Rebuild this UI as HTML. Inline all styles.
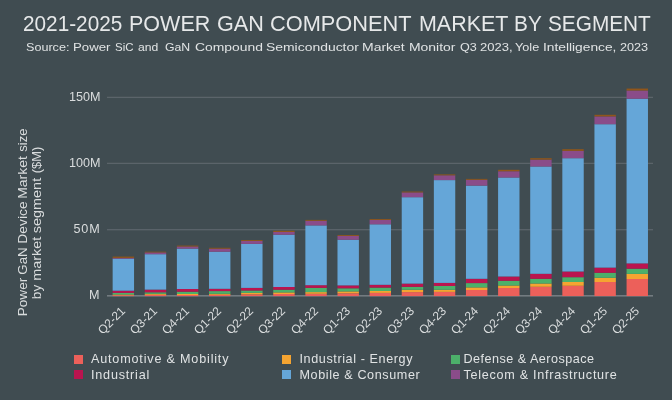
<!DOCTYPE html>
<html><head><meta charset="utf-8"><style>
html,body{margin:0;padding:0;}
#wrap{position:absolute;left:0;top:0;width:672px;height:400px;filter:blur(0.45px);}
body{width:672px;height:400px;background:#404c51;position:relative;overflow:hidden;font-family:"Liberation Sans",sans-serif;color:#eef0f0;}
.t{position:absolute;white-space:nowrap;line-height:1;}
#title{position:absolute;left:0;top:13.3px;font-size:21.8px;line-height:1;color:#e6e8e9;}
.tw{position:absolute;top:0;white-space:nowrap;transform-origin:0 0;}
#sub{position:absolute;left:0;top:42.2px;font-size:11.5px;line-height:1;color:#e0e3e4;}
.yl{position:absolute;width:40px;text-align:right;font-size:12.6px;line-height:1;color:#d9dcdd;letter-spacing:0.45px}
.xl{position:absolute;width:60px;text-align:right;font-size:12px;line-height:1;color:#d9dcdd;transform-origin:100% 50%;transform:rotate(-45deg);white-space:nowrap;letter-spacing:-0.15px}
.yt{position:absolute;left:0;top:0;white-space:nowrap;font-size:12.6px;line-height:1;color:#d9dcdd;transform-origin:0 0;}
.lg{position:absolute;font-size:12.6px;line-height:1;color:#e0e3e4;white-space:nowrap;letter-spacing:0.6px}
.sq{position:absolute;width:9px;height:9.3px;}
svg{position:absolute;left:0;top:0;}
</style></head><body>
<div id="wrap">
<div id="title"><span class="tw" style="left:23.26px;transform:scaleX(0.9526)">2021-2025</span><span class="tw" style="left:129.44px;transform:scaleX(0.9868)">POWER</span><span class="tw" style="left:217.22px;transform:scaleX(0.9913)">GAN</span><span class="tw" style="left:270.49px;transform:scaleX(0.9987)">COMPONENT</span><span class="tw" style="left:418.54px;transform:scaleX(0.9836)">MARKET</span><span class="tw" style="left:514.49px;transform:scaleX(0.9547)">BY</span><span class="tw" style="left:548.34px;transform:scaleX(0.9539)">SEGMENT</span></div>
<div id="sub"><span class="tw" style="left:26.32px;transform:scaleX(1.0958)">Source:</span><span class="tw" style="left:73.42px;transform:scaleX(1.1478)">Power</span><span class="tw" style="left:115.47px;transform:scaleX(0.9966)">SiC</span><span class="tw" style="left:138.39px;transform:scaleX(1.0577)">and</span><span class="tw" style="left:165.19px;transform:scaleX(1.0661)">GaN</span><span class="tw" style="left:194.69px;transform:scaleX(1.2069)">Compound</span><span class="tw" style="left:266.01px;transform:scaleX(1.2102)">Semiconductor</span><span class="tw" style="left:361.95px;transform:scaleX(1.2163)">Market</span><span class="tw" style="left:408.76px;transform:scaleX(1.2123)">Monitor</span><span class="tw" style="left:459.61px;transform:scaleX(1.0948)">Q3</span><span class="tw" style="left:479.75px;transform:scaleX(1.1297)">2023,</span><span class="tw" style="left:514.72px;transform:scaleX(1.1011)">Yole</span><span class="tw" style="left:543.13px;transform:scaleX(1.1960)">Intelligence,</span><span class="tw" style="left:619.67px;transform:scaleX(1.0982)">2023</span></div>
<svg width="672" height="400" viewBox="0 0 672 400">
<rect x="107" y="96.75" width="546" height="1.3" fill="#5b646a"/><rect x="107" y="162.75" width="546" height="1.3" fill="#5b646a"/><rect x="107" y="229.05" width="546" height="1.3" fill="#5b646a"/><rect x="107" y="295.0" width="546" height="1.6" fill="#737b80"/><rect x="112.65" y="295.20" width="21.4" height="0.90" fill="#ec605a"/><rect x="112.65" y="294.50" width="21.4" height="0.70" fill="#f5a431"/><rect x="112.65" y="292.90" width="21.4" height="1.60" fill="#4cb06a"/><rect x="112.65" y="290.70" width="21.4" height="2.20" fill="#ba144f"/><rect x="112.65" y="258.70" width="21.4" height="32.00" fill="#65a6d8"/><rect x="112.65" y="257.90" width="21.4" height="0.80" fill="#8a4c89"/><rect x="112.65" y="256.60" width="21.4" height="1.30" fill="#91561a"/><rect x="144.77" y="294.80" width="21.4" height="1.30" fill="#ec605a"/><rect x="144.77" y="293.80" width="21.4" height="1.00" fill="#f5a431"/><rect x="144.77" y="292.30" width="21.4" height="1.50" fill="#4cb06a"/><rect x="144.77" y="289.60" width="21.4" height="2.70" fill="#ba144f"/><rect x="144.77" y="254.20" width="21.4" height="35.40" fill="#65a6d8"/><rect x="144.77" y="252.40" width="21.4" height="1.80" fill="#8a4c89"/><rect x="144.77" y="251.70" width="21.4" height="0.70" fill="#91561a"/><rect x="176.89" y="295.00" width="21.4" height="1.10" fill="#ec605a"/><rect x="176.89" y="294.00" width="21.4" height="1.00" fill="#f5a431"/><rect x="176.89" y="291.70" width="21.4" height="2.30" fill="#4cb06a"/><rect x="176.89" y="289.00" width="21.4" height="2.70" fill="#ba144f"/><rect x="176.89" y="248.60" width="21.4" height="40.40" fill="#65a6d8"/><rect x="176.89" y="246.50" width="21.4" height="2.10" fill="#8a4c89"/><rect x="176.89" y="245.60" width="21.4" height="0.90" fill="#91561a"/><rect x="209.01" y="294.80" width="21.4" height="1.30" fill="#ec605a"/><rect x="209.01" y="293.80" width="21.4" height="1.00" fill="#f5a431"/><rect x="209.01" y="291.10" width="21.4" height="2.70" fill="#4cb06a"/><rect x="209.01" y="288.80" width="21.4" height="2.30" fill="#ba144f"/><rect x="209.01" y="251.70" width="21.4" height="37.10" fill="#65a6d8"/><rect x="209.01" y="248.70" width="21.4" height="3.00" fill="#8a4c89"/><rect x="209.01" y="247.80" width="21.4" height="0.90" fill="#91561a"/><rect x="241.13" y="294.30" width="21.4" height="1.80" fill="#ec605a"/><rect x="241.13" y="292.90" width="21.4" height="1.40" fill="#f5a431"/><rect x="241.13" y="290.50" width="21.4" height="2.40" fill="#4cb06a"/><rect x="241.13" y="287.90" width="21.4" height="2.60" fill="#ba144f"/><rect x="241.13" y="243.90" width="21.4" height="44.00" fill="#65a6d8"/><rect x="241.13" y="241.00" width="21.4" height="2.90" fill="#8a4c89"/><rect x="241.13" y="240.10" width="21.4" height="0.90" fill="#91561a"/><rect x="273.25" y="294.00" width="21.4" height="2.10" fill="#ec605a"/><rect x="273.25" y="292.40" width="21.4" height="1.60" fill="#f5a431"/><rect x="273.25" y="289.70" width="21.4" height="2.70" fill="#4cb06a"/><rect x="273.25" y="287.00" width="21.4" height="2.70" fill="#ba144f"/><rect x="273.25" y="234.70" width="21.4" height="52.30" fill="#65a6d8"/><rect x="273.25" y="232.00" width="21.4" height="2.70" fill="#8a4c89"/><rect x="273.25" y="230.80" width="21.4" height="1.20" fill="#91561a"/><rect x="305.37" y="293.80" width="21.4" height="2.30" fill="#ec605a"/><rect x="305.37" y="292.10" width="21.4" height="1.70" fill="#f5a431"/><rect x="305.37" y="287.90" width="21.4" height="4.20" fill="#4cb06a"/><rect x="305.37" y="285.20" width="21.4" height="2.70" fill="#ba144f"/><rect x="305.37" y="225.40" width="21.4" height="59.80" fill="#65a6d8"/><rect x="305.37" y="220.80" width="21.4" height="4.60" fill="#8a4c89"/><rect x="305.37" y="219.90" width="21.4" height="0.90" fill="#91561a"/><rect x="337.49" y="293.30" width="21.4" height="2.80" fill="#ec605a"/><rect x="337.49" y="291.40" width="21.4" height="1.90" fill="#f5a431"/><rect x="337.49" y="288.30" width="21.4" height="3.10" fill="#4cb06a"/><rect x="337.49" y="285.40" width="21.4" height="2.90" fill="#ba144f"/><rect x="337.49" y="239.70" width="21.4" height="45.70" fill="#65a6d8"/><rect x="337.49" y="236.00" width="21.4" height="3.70" fill="#8a4c89"/><rect x="337.49" y="235.10" width="21.4" height="0.90" fill="#91561a"/><rect x="369.61" y="292.90" width="21.4" height="3.20" fill="#ec605a"/><rect x="369.61" y="291.00" width="21.4" height="1.90" fill="#f5a431"/><rect x="369.61" y="287.60" width="21.4" height="3.40" fill="#4cb06a"/><rect x="369.61" y="284.80" width="21.4" height="2.80" fill="#ba144f"/><rect x="369.61" y="224.30" width="21.4" height="60.50" fill="#65a6d8"/><rect x="369.61" y="219.90" width="21.4" height="4.40" fill="#8a4c89"/><rect x="369.61" y="219.00" width="21.4" height="0.90" fill="#91561a"/><rect x="401.73" y="292.10" width="21.4" height="4.00" fill="#ec605a"/><rect x="401.73" y="289.80" width="21.4" height="2.30" fill="#f5a431"/><rect x="401.73" y="286.90" width="21.4" height="2.90" fill="#4cb06a"/><rect x="401.73" y="283.60" width="21.4" height="3.30" fill="#ba144f"/><rect x="401.73" y="197.20" width="21.4" height="86.40" fill="#65a6d8"/><rect x="401.73" y="192.40" width="21.4" height="4.80" fill="#8a4c89"/><rect x="401.73" y="191.55" width="21.4" height="0.85" fill="#91561a"/><rect x="433.85" y="291.90" width="21.4" height="4.20" fill="#ec605a"/><rect x="433.85" y="289.80" width="21.4" height="2.10" fill="#f5a431"/><rect x="433.85" y="286.00" width="21.4" height="3.80" fill="#4cb06a"/><rect x="433.85" y="282.90" width="21.4" height="3.10" fill="#ba144f"/><rect x="433.85" y="180.10" width="21.4" height="102.80" fill="#65a6d8"/><rect x="433.85" y="175.30" width="21.4" height="4.80" fill="#8a4c89"/><rect x="433.85" y="174.40" width="21.4" height="0.90" fill="#91561a"/><rect x="465.97" y="290.00" width="21.4" height="6.10" fill="#ec605a"/><rect x="465.97" y="287.40" width="21.4" height="2.60" fill="#f5a431"/><rect x="465.97" y="283.10" width="21.4" height="4.30" fill="#4cb06a"/><rect x="465.97" y="278.80" width="21.4" height="4.30" fill="#ba144f"/><rect x="465.97" y="185.60" width="21.4" height="93.20" fill="#65a6d8"/><rect x="465.97" y="179.80" width="21.4" height="5.80" fill="#8a4c89"/><rect x="465.97" y="178.90" width="21.4" height="0.90" fill="#91561a"/><rect x="498.09" y="288.00" width="21.4" height="8.10" fill="#ec605a"/><rect x="498.09" y="285.50" width="21.4" height="2.50" fill="#f5a431"/><rect x="498.09" y="280.80" width="21.4" height="4.70" fill="#4cb06a"/><rect x="498.09" y="276.50" width="21.4" height="4.30" fill="#ba144f"/><rect x="498.09" y="177.50" width="21.4" height="99.00" fill="#65a6d8"/><rect x="498.09" y="171.25" width="21.4" height="6.25" fill="#8a4c89"/><rect x="498.09" y="169.80" width="21.4" height="1.45" fill="#91561a"/><rect x="530.21" y="286.80" width="21.4" height="9.30" fill="#ec605a"/><rect x="530.21" y="283.50" width="21.4" height="3.30" fill="#f5a431"/><rect x="530.21" y="278.80" width="21.4" height="4.70" fill="#4cb06a"/><rect x="530.21" y="273.80" width="21.4" height="5.00" fill="#ba144f"/><rect x="530.21" y="166.50" width="21.4" height="107.30" fill="#65a6d8"/><rect x="530.21" y="159.60" width="21.4" height="6.90" fill="#8a4c89"/><rect x="530.21" y="158.20" width="21.4" height="1.40" fill="#91561a"/><rect x="562.33" y="285.80" width="21.4" height="10.30" fill="#ec605a"/><rect x="562.33" y="282.00" width="21.4" height="3.80" fill="#f5a431"/><rect x="562.33" y="277.20" width="21.4" height="4.80" fill="#4cb06a"/><rect x="562.33" y="271.50" width="21.4" height="5.70" fill="#ba144f"/><rect x="562.33" y="158.20" width="21.4" height="113.30" fill="#65a6d8"/><rect x="562.33" y="150.90" width="21.4" height="7.30" fill="#8a4c89"/><rect x="562.33" y="149.20" width="21.4" height="1.70" fill="#91561a"/><rect x="594.45" y="282.00" width="21.4" height="14.10" fill="#ec605a"/><rect x="594.45" y="277.80" width="21.4" height="4.20" fill="#f5a431"/><rect x="594.45" y="272.80" width="21.4" height="5.00" fill="#4cb06a"/><rect x="594.45" y="267.60" width="21.4" height="5.20" fill="#ba144f"/><rect x="594.45" y="124.20" width="21.4" height="143.40" fill="#65a6d8"/><rect x="594.45" y="116.40" width="21.4" height="7.80" fill="#8a4c89"/><rect x="594.45" y="114.80" width="21.4" height="1.60" fill="#91561a"/><rect x="626.57" y="279.00" width="21.4" height="17.10" fill="#ec605a"/><rect x="626.57" y="273.90" width="21.4" height="5.10" fill="#f5a431"/><rect x="626.57" y="268.70" width="21.4" height="5.20" fill="#4cb06a"/><rect x="626.57" y="263.40" width="21.4" height="5.30" fill="#ba144f"/><rect x="626.57" y="98.70" width="21.4" height="164.70" fill="#65a6d8"/><rect x="626.57" y="90.50" width="21.4" height="8.20" fill="#8a4c89"/><rect x="626.57" y="88.55" width="21.4" height="1.95" fill="#91561a"/>
</svg>
<div class="yl" style="left:60.45px;top:90.6px;letter-spacing:0px">150M</div>
<div class="yl" style="left:60.45px;top:156.8px;letter-spacing:0px">100M</div>
<div class="yl" style="left:60.45px;top:223px;letter-spacing:0.8px">50M</div>
<div class="yl" style="left:60px;top:289.2px">M</div>
<div class="xl" style="left:62.85px;top:303.00px">Q2-21</div><div class="xl" style="left:94.97px;top:303.00px">Q3-21</div><div class="xl" style="left:127.09px;top:303.00px">Q4-21</div><div class="xl" style="left:159.21px;top:303.00px">Q1-22</div><div class="xl" style="left:191.33px;top:303.00px">Q2-22</div><div class="xl" style="left:223.45px;top:303.00px">Q3-22</div><div class="xl" style="left:255.57px;top:303.00px">Q4-22</div><div class="xl" style="left:287.69px;top:303.00px">Q1-23</div><div class="xl" style="left:319.81px;top:303.00px">Q2-23</div><div class="xl" style="left:351.93px;top:303.00px">Q3-23</div><div class="xl" style="left:384.05px;top:303.00px">Q4-23</div><div class="xl" style="left:416.17px;top:303.00px">Q1-24</div><div class="xl" style="left:448.29px;top:303.00px">Q2-24</div><div class="xl" style="left:480.41px;top:303.00px">Q3-24</div><div class="xl" style="left:512.53px;top:303.00px">Q4-24</div><div class="xl" style="left:544.65px;top:303.00px">Q1-25</div><div class="xl" style="left:576.77px;top:303.00px">Q2-25</div>
<div class="yt" style="transform:translate(17.0px,316.32px) rotate(-90deg) scaleX(1.0824)">Power</div>
<div class="yt" style="transform:translate(17.0px,274.66px) rotate(-90deg) scaleX(1.0513)">GaN</div>
<div class="yt" style="transform:translate(17.0px,243.63px) rotate(-90deg) scaleX(1.0967)">Device</div>
<div class="yt" style="transform:translate(17.0px,198.85px) rotate(-90deg) scaleX(1.1101)">Market</div>
<div class="yt" style="transform:translate(17.0px,151.71px) rotate(-90deg) scaleX(1.0328)">size</div>
<div class="yt" style="transform:translate(31.2px,299.24px) rotate(-90deg) scaleX(1.0874)">by</div>
<div class="yt" style="transform:translate(31.2px,280.85px) rotate(-90deg) scaleX(1.1440)">market</div>
<div class="yt" style="transform:translate(31.2px,233.25px) rotate(-90deg) scaleX(1.1474)">segment</div>
<div class="yt" style="transform:translate(31.2px,173.20px) rotate(-90deg) scaleX(1.0193)">($M)</div>
<div class="sq" style="left:74px;top:354.5px;background:#ec605a"></div>
<div class="lg" style="left:91px;top:353.2px;letter-spacing:0.82px">Automotive &amp; Mobility</div>
<div class="sq" style="left:74px;top:369.6px;background:#ba144f"></div>
<div class="lg" style="left:91px;top:369px;letter-spacing:0.8px">Industrial</div>
<div class="sq" style="left:282px;top:354.5px;background:#f5a431"></div>
<div class="lg" style="left:299.5px;top:353.2px">Industrial - Energy</div>
<div class="sq" style="left:282px;top:369.6px;background:#65a6d8"></div>
<div class="lg" style="left:299.5px;top:369px">Mobile &amp; Consumer</div>
<div class="sq" style="left:451.2px;top:354.5px;background:#4cb06a"></div>
<div class="lg" style="left:463.5px;top:353.2px;letter-spacing:0.48px">Defense &amp; Aerospace</div>
<div class="sq" style="left:451.2px;top:369.6px;background:#8a4c89"></div>
<div class="lg" style="left:463.5px;top:369px;letter-spacing:0.73px">Telecom &amp; Infrastructure</div>
</div>
</body></html>
